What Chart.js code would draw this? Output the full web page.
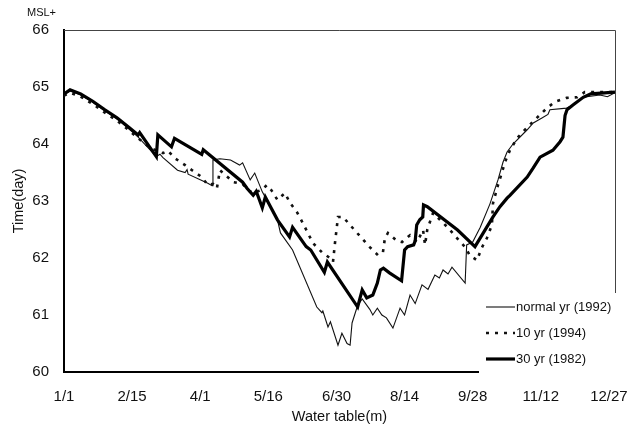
<!DOCTYPE html>
<html>
<head>
<meta charset="utf-8">
<script src="https://cdn.jsdelivr.net/npm/chart.js@4/dist/chart.umd.min.js"></script>
<style>
  html,body{margin:0;padding:0;background:#fff;}
  #wrap{width:635px;height:430px;position:relative;}
</style>
</head>
<body>
<div id="wrap"><canvas id="c" width="635" height="430"></canvas></div>
<script>
// x = day of year, y = level (MSL+)
const tickDays = [1, 46, 91, 136, 181, 226, 271, 316, 361];
const tickLabels = ['1/1', '2/15', '4/1', '5/16', '6/30', '8/14', '9/28', '11/12', '12/27'];
const seriesNames = ['normal yr (1992)', '10 yr (1994)', '30 yr (1982)'];

const normalYr = [[1,64.87],[5,64.93],[12,64.86],[20,64.73],[28,64.58],[36,64.44],[44,64.26],[50,64.12],[62,63.78],[64.4,63.82],[66.4,63.76],[76,63.54],[81,63.5],[82.3,63.55],[83,63.47],[96,63.31],[98.8,63.27],[99.4,63.72],[104,63.74],[111,63.72],[117,63.63],[119,63.67],[124,63.37],[127,63.49],[132,63.16],[142,62.67],[144,62.44],[152,62.14],[168,61.14],[171.4,61.04],[172,61.07],[175.4,60.79],[177,60.88],[182,60.47],[184.6,60.68],[188,60.5],[190,60.47],[191.3,60.86],[195,61.17],[198,61.28],[203,61.1],[205,61.0],[208,61.12],[211,61.0],[214,60.95],[218.3,60.77],[223,61.12],[226,61.0],[229.6,61.35],[233,61.2],[237.5,61.53],[241.5,61.45],[246,61.7],[249,61.65],[251.4,61.79],[254.7,61.72],[257.3,61.84],[266,61.56],[267,62.23],[271,62.28],[276,62.54],[282.4,62.95],[287.7,63.37],[291,63.68],[293.7,63.86],[297.6,64.0],[307,64.25],[311,64.37],[317,64.46],[320.7,64.52],[322,64.6],[333,64.63],[337,64.68],[344,64.82],[355,64.86],[360,64.83],[365,64.9]];

const yr10 = [[1,64.85],[5,64.9],[12,64.83],[20,64.7],[28,64.55],[36,64.41],[44,64.24],[50,64.1],[58,63.93],[66.4,63.84],[69.7,63.88],[74.3,63.75],[81,63.63],[85.6,63.54],[92,63.42],[96,63.28],[99.4,63.3],[102,63.22],[104,63.54],[107,63.47],[113,63.33],[119,63.3],[122.5,63.19],[126,63.14],[132,63.2],[135,63.28],[138,63.19],[142,63.02],[144,63.07],[147,63.14],[150,62.98],[155,62.8],[159,62.6],[165.5,62.26],[171.4,62.1],[176.7,62.0],[178.7,61.93],[180,62.26],[182,62.72],[185.3,62.72],[194.6,62.44],[203,62.19],[208.4,62.05],[211.7,62.1],[213,62.35],[215,62.44],[221,62.3],[224.3,62.28],[229.6,62.4],[234.2,62.28],[238.2,62.49],[239.5,62.23],[241,62.5],[244.8,62.79],[249.4,62.67],[254.7,62.53],[260.6,62.35],[266,62.19],[269,62.05],[273.8,61.96],[277,62.18],[280.4,62.35],[283.7,62.58],[284.4,62.96],[287.7,63.28],[290.3,63.5],[292.3,63.68],[295.6,63.89],[300.3,64.1],[304,64.21],[310,64.37],[320,64.63],[325.4,64.74],[333,64.81],[340,64.82],[345,64.91],[365,64.91]];

const yr30 = [[1,64.88],[5,64.95],[12,64.88],[20,64.75],[28,64.6],[36,64.46],[44,64.29],[50,64.16],[51,64.2],[62,63.78],[63,64.16],[72,63.95],[74,64.1],[92,63.82],[93,63.9],[119,63.33],[122,63.22],[126,63.1],[128,63.17],[132,62.88],[134,63.07],[142,62.67],[150,62.37],[152,62.54],[161,62.2],[164,62.14],[173,61.75],[175,61.93],[195,61.14],[198,61.44],[201,61.3],[205,61.35],[208,61.56],[210,61.79],[212,61.82],[216,61.74],[224,61.6],[226,62.14],[228,62.2],[232,62.23],[233,62.3],[234,62.58],[236,62.67],[238,62.72],[238.5,62.93],[241,62.9],[261,62.49],[272.5,62.2],[284.4,62.72],[289,62.9],[293.7,63.05],[295.6,63.1],[307,63.42],[311,63.58],[315.5,63.77],[324,63.89],[328.7,64.04],[330.6,64.12],[332,64.5],[333.3,64.6],[337,64.68],[344,64.82],[349,64.88],[365,64.91]];

const FONT = '"Liberation Sans", Arial, Helvetica, sans-serif';
const toXY = arr => arr.map(p => ({x: p[0], y: p[1]}));

const datasets = [
  { label: seriesNames[0], data: toXY(normalYr), borderColor: '#111', borderWidth: 1.1, order: 2 },
  { label: seriesNames[1], data: toXY(yr10), borderColor: '#111', borderWidth: 2.6, borderDash: [3, 6], order: 1 },
  { label: seriesNames[2], data: toXY(yr30), borderColor: '#000', borderWidth: 3.2, order: 0 }
];

const extras = {
  id: 'extras',
  afterDatasetsDraw(chart){
    const ctx = chart.ctx, a = chart.chartArea;
    ctx.save();
    // thin top / right frame
    ctx.strokeStyle = '#444'; ctx.lineWidth = 1;
    ctx.beginPath();
    ctx.moveTo(a.left, a.top + 0.5); ctx.lineTo(a.right + 0.5, a.top + 0.5); ctx.lineTo(a.right + 0.5, a.bottom);
    ctx.stroke();
    // legend box
    ctx.fillStyle = '#fff';
    ctx.fillRect(479, 293, 140, 82);
    const rows = [307, 333, 359];
    datasets.forEach((d, i) => {
      ctx.beginPath();
      ctx.strokeStyle = d.borderColor;
      ctx.lineWidth = d.borderWidth;
      ctx.setLineDash(d.borderDash || []);
      ctx.moveTo(486, rows[i]); ctx.lineTo(515, rows[i]);
      ctx.stroke();
      ctx.setLineDash([]);
      ctx.fillStyle = '#111';
      ctx.font = '13px ' + FONT;
      ctx.textBaseline = 'middle';
      ctx.textAlign = 'left';
      ctx.fillText(d.label, 516, rows[i]);
    });
    ctx.font = '11px ' + FONT;
    ctx.fillText('MSL+', 27, 13);
    ctx.restore();
  }
};

new Chart(document.getElementById('c').getContext('2d'), {
  type: 'line',
  data: { datasets },
  options: {
    responsive: false,
    animation: false,
    layout: { padding: { left: 0, right: 20, top: 30, bottom: 0 } },
    elements: { point: { radius: 0 }, line: { tension: 0 } },
    plugins: { legend: { display: false }, tooltip: { enabled: false } },
    scales: {
      x: {
        type: 'linear', min: 1, max: 365,
        afterBuildTicks: s => { s.ticks = tickDays.map(v => ({ value: v })); },
        afterFit: s => { s.height = 58; s.paddingLeft = 0; s.paddingRight = 0; },
        ticks: { callback: v => tickLabels[tickDays.indexOf(v)], font: { family: FONT, size: 15 }, color: '#111', padding: 16, maxRotation: 0, autoSkip: false },
        grid: { display: false, drawTicks: false },
        border: { color: '#000', width: 2 },
        title: { display: true, text: 'Water table(m)', font: { family: FONT, size: 14.5 }, color: '#111', padding: { top: 1 } }
      },
      y: {
        min: 60, max: 66,
        afterFit: s => { s.width = 64; },
        ticks: { stepSize: 1, font: { family: FONT, size: 15 }, color: '#111', padding: 15 },
        grid: { display: false, drawTicks: false },
        border: { color: '#000', width: 2 },
        title: { display: true, text: 'Time(day)', font: { family: FONT, size: 14.5 }, color: '#111', padding: { top: 10 } }
      }
    }
  },
  plugins: [extras]
});
</script>
</body>
</html>
